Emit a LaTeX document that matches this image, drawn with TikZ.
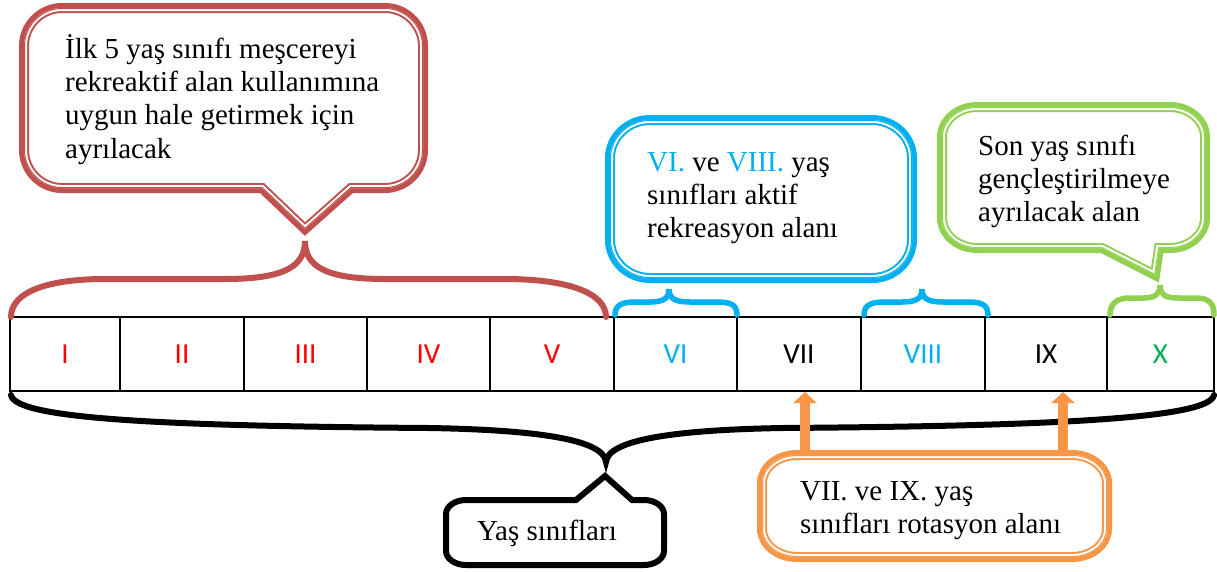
\documentclass[tikz,border=0pt]{standalone}
\usepackage{fontspec}
\setmainfont{Liberation Serif}
\newfontfamily\numfont{Carlito}
\usetikzlibrary{arrows.meta}

\definecolor{calred}{HTML}{C0504D}
\definecolor{calblue}{HTML}{00B0F0}
\definecolor{calgreen}{HTML}{92D050}
\definecolor{calorange}{HTML}{F79646}
\definecolor{numred}{HTML}{FF0000}
\definecolor{numgreen}{HTML}{00B050}

% rounded box outline: x1 y1 x2 y2 rx ry, extra segments on top edge (#7) and bottom edge (#8)
\newcommand\cpath[8]{({#1+#5},#2) #7 -- ({#3-#5},#2)
  .. controls ({#3-0.45*#5},#2) and (#3,{#2+0.45*#6}) .. (#3,{#2+#6})
  -- (#3,{#4-#6})
  .. controls (#3,{#4-0.45*#6}) and ({#3-0.45*#5},#4) .. ({#3-#5},#4)
  #8 -- ({#1+#5},#4)
  .. controls ({#1+0.45*#5},#4) and (#1,{#4-0.45*#6}) .. (#1,{#4-#6})
  -- (#1,{#2+#6})
  .. controls (#1,{#2+0.45*#6}) and ({#1+0.45*#5},#2) .. cycle}

% thick outer line, thin inner line, white gap between
\newcommand\dblcallout[2]{%
  \fill[white] #2;
  \draw[#1, line width=10pt] #2;
  \begin{scope}
    \clip #2;
    \draw[white, line width=6pt] #2;
    \draw[#1, line width=2pt] #2;
  \end{scope}}

\newcommand\lns[1]{\begin{tabular}[t]{@{}l@{}}#1\end{tabular}}

\tikzset{
  cell/.style={draw=black, line width=2pt, minimum height=74pt, inner sep=0pt,
    font=\fontsize{29}{34}\numfont},
  txt/.style={anchor=base west, inner sep=0pt, font=\fontsize{29}{33.4}\selectfont},
  bracered/.style={draw=calred, line width=6pt, line cap=round},
  braceblue/.style={draw=calblue, line width=5.5pt, line cap=round},
  bracegreen/.style={draw=calgreen, line width=5.5pt, line cap=round},
  braceblack/.style={draw=black, line width=6pt, line cap=round},
  uparrow/.style={draw=calorange, line width=10pt, -{Triangle[width=23pt,length=11pt]}}
}

\begin{document}
\begin{tikzpicture}[x=1pt, y=-1pt]
\useasboundingbox (0,0) rectangle (1217,571);

% row of age classes
\foreach \xa/\xb/\lab/\col [count=\i] in
  {10/120/I/numred, 120/244/II/numred, 244/367/III/numred, 367/490/IV/numred,
   490/614/V/numred, 614/737/VI/calblue, 737/861/VII/black, 861/985/VIII/calblue,
   985/1107/IX/black, 1107/1214/X/numgreen}
  \node[cell, minimum width={\xb-\xa}] (c\i) at ({(\xa+\xb)/2},354) {\textcolor{\col}{\lab}};

% braces above the row
\draw[bracered] (11,317) .. controls (11,293) and (45,279) .. (105,279) -- (225,279)
  .. controls (285,279) and (305,266) .. (305,241)
  .. controls (305,266) and (325,279) .. (385,279) -- (505,279)
  .. controls (568,279) and (606,293) .. (606,317);
\draw[braceblue] (615,315) .. controls (615,305) and (622,302) .. (635,302) -- (650,302)
  .. controls (664,302) and (669,298) .. (669,289)
  .. controls (669,298) and (674,302) .. (690,302) -- (717,302)
  .. controls (731,302) and (737,305) .. (737,315);
\draw[braceblue] (864,315) .. controls (864,305) and (871,302) .. (884,302) -- (902,302)
  .. controls (917,302) and (922,298) .. (922,289)
  .. controls (922,298) and (927,302) .. (943,302) -- (968,302)
  .. controls (982,302) and (988,305) .. (988,315);
\draw[bracegreen] (1110,315) .. controls (1110,303) and (1117,298) .. (1130,298) -- (1143,298)
  .. controls (1156,298) and (1160,294) .. (1160,285)
  .. controls (1160,294) and (1164,298) .. (1178,298) -- (1195,298)
  .. controls (1209,298) and (1214,303) .. (1214,315);

% brace below the row
\draw[braceblack] (11,395) .. controls (15,418) and (150,426) .. (430,428)
  .. controls (540,430) and (604,440) .. (606,462)
  .. controls (608,440) and (672,430) .. (782,428)
  .. controls (1060,426) and (1210,418) .. (1214,395);

% callouts
\dblcallout{calred}{\cpath{24}{8}{423}{188}{38}{38}{}{-- (351,188) -- (305,229) -- (262,188)}}
\dblcallout{calblue}{\cpath{610}{120}{912}{278}{40}{38}{}{}}
\dblcallout{calgreen}{\cpath{942}{107}{1205}{248}{35}{30}{}{-- (1159,248) -- (1155,275) -- (1102,248)}}
\fill[white] \cpath{446}{500}{664}{565}{20}{14}{-- (576,500) -- (605,476) -- (632,500)}{};
\draw[black, line width=6pt] \cpath{446}{500}{664}{565}{20}{14}{-- (576,500) -- (605,476) -- (632,500)}{};

% rotation arrows
\coordinate (a7) at (805,455);
\coordinate (a9) at (1063,455);
\draw[uparrow] (a7) -- (a7 |- c7.south);
\draw[uparrow] (a9) -- (a9 |- c9.south);
\dblcallout{calorange}{\cpath{762}{455}{1107}{557}{35}{28}{}{}}

% texts
\node[txt] (tred) at (65,58) {\lns{İlk 5 yaş sınıfı meşcereyi\\rekreaktif alan kullanımına\\uygun hale getirmek için\\ayrılacak}};
\node[txt] (tblue) at (647,171) {\lns{\textcolor{calblue}{VI.} ve \textcolor{calblue}{VIII.} yaş\\sınıfları aktif\\rekreasyon alanı}};
\node[txt] (tgreen) at (978,155) {\lns{Son yaş sınıfı\\gençleştirilmeye\\ayrılacak alan}};
\node[txt] (tblack) at (477,540) {Yaş sınıfları};
\node[txt] (torange) at (800,500) {\lns{VII. ve IX. yaş\\sınıfları rotasyon alanı}};
\end{tikzpicture}
\end{document}
